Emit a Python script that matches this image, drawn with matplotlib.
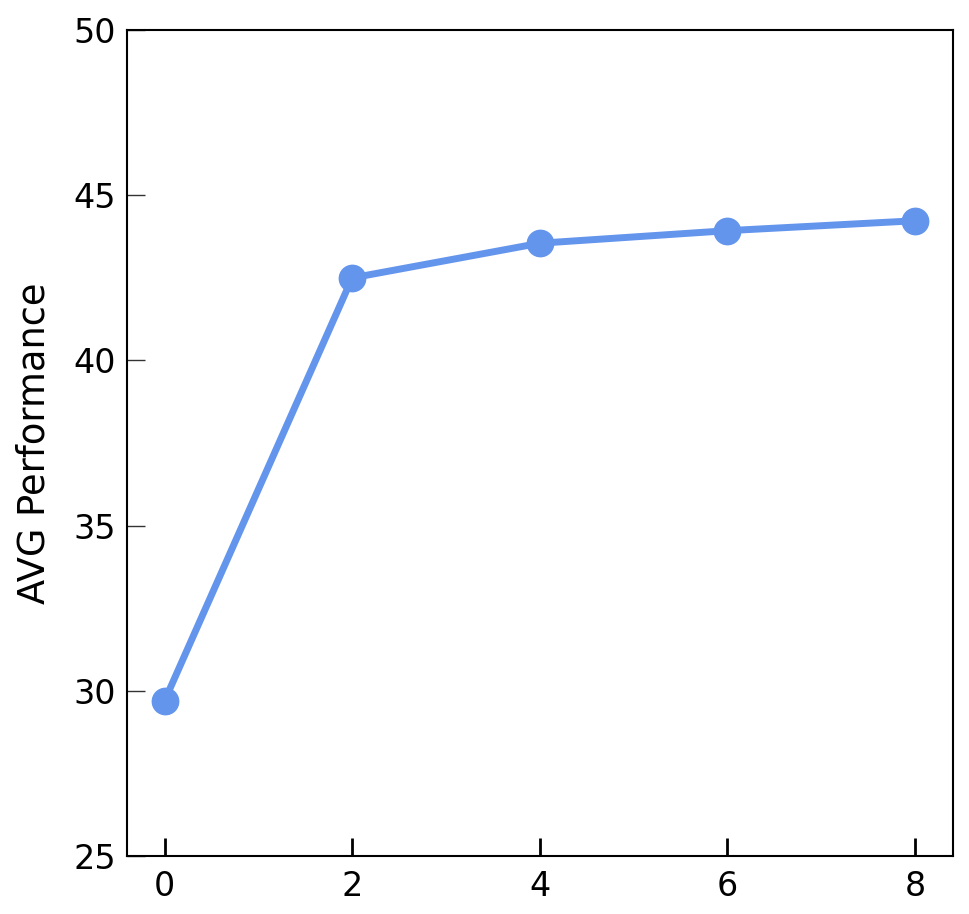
import matplotlib
matplotlib.use('Agg')
import matplotlib.pyplot as plt

steps = [0, 2, 4, 6, 8]
avg_perf = [29.7, 42.5, 43.55, 43.93, 44.23]

fig = plt.figure(figsize=(9.7, 9.14), dpi=100)
ax = fig.add_axes([0.131, 0.0635, 0.851, 0.9035])

ax.plot(steps, avg_perf, color='cornflowerblue', linewidth=5,
        marker='o', markersize=19)

ax.set_xlim(-0.4, 8.4)
ax.set_ylim(25, 50)
ax.set_xticks(steps)
ax.set_yticks([25, 30, 35, 40, 45, 50])
ax.set_ylabel("AVG Performance", fontsize=26.5, labelpad=15)

ax.tick_params(axis='x', direction='in', length=13, width=2, labelsize=24, pad=10)
ax.tick_params(axis='y', direction='in', length=13, width=1, labelsize=24, pad=8,
               color='#333333')
for s in ax.spines.values():
    s.set_linewidth(1.5)

plt.savefig('out.png', dpi=100)
